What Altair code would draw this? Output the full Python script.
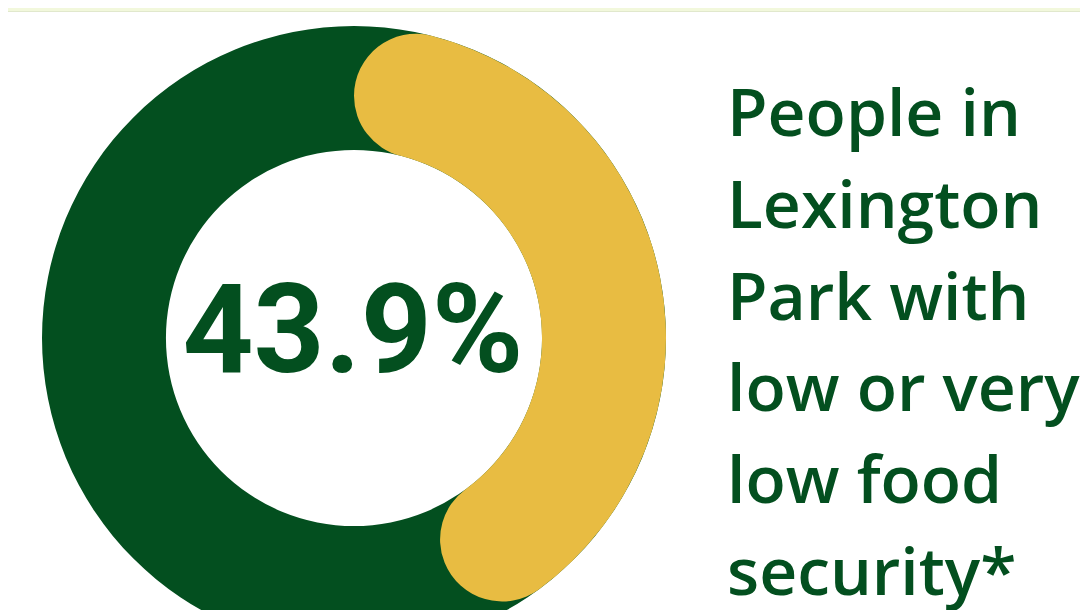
import altair as alt
import pandas as pd

# data
share_value = [43.9]
share_label = ["43.9%"]
caption_lines = ["People in", "Lexington", "Park with", "low or very", "low food", "security*"]

GREEN = "#034f1f"
YELLOW = "#e8bc42"

W, H = 1072, 602
CX, CY = 346, 330
R_OUT, R_IN = 312, 188

theta_scale = alt.Scale(domain=[0, 100], range=[0, 6.283185307179586])

ring_df = pd.DataFrame({"value": [100.0]})
share_df = pd.DataFrame({"value": share_value, "label": share_label})
caption_df = pd.DataFrame({"lines": [caption_lines]})
strip_df = pd.DataFrame({"a": [0]})

strip = alt.Chart(strip_df).mark_rect(color="#f2f8dc").encode(
    x=alt.value(0), x2=alt.value(W), y=alt.value(0), y2=alt.value(3)
)
strip_line = alt.Chart(strip_df).mark_rule(color="#e1e8cd", strokeWidth=1).encode(
    x=alt.value(0), x2=alt.value(W), y=alt.value(3.5)
)

ring = alt.Chart(ring_df).mark_arc(color=GREEN).encode(
    theta=alt.Theta("value:Q", scale=theta_scale),
    x=alt.value(CX), y=alt.value(CY),
    radius=alt.value(R_OUT), radius2=alt.value(R_IN),
)

share = alt.Chart(share_df).mark_arc(color=YELLOW, cornerRadius=62).encode(
    theta=alt.Theta("value:Q", scale=theta_scale),
    x=alt.value(CX), y=alt.value(CY),
    radius=alt.value(R_OUT), radius2=alt.value(R_IN),
)

center_text = alt.Chart(share_df).mark_text(
    font="Roboto", fontWeight="bold", fontSize=124, color=GREEN,
    align="center", baseline="alphabetic",
).encode(text="label:N", x=alt.value(CX - 1), y=alt.value(364))

caption = alt.Chart(caption_df).mark_text(
    font="Open Sans", fontWeight=600, fontSize=66, color=GREEN,
    align="left", baseline="alphabetic", lineHeight=91.8,
).encode(text="lines", x=alt.value(719), y=alt.value(128))

chart = alt.layer(strip, strip_line, ring, share, center_text, caption).properties(
    width=W, height=H, padding=0, autosize=alt.AutoSizeParams(type="none"),
    background="#ffffff",
).configure_view(stroke=None)

chart.save("out.html", embed_options={"renderer": "svg", "actions": False})
